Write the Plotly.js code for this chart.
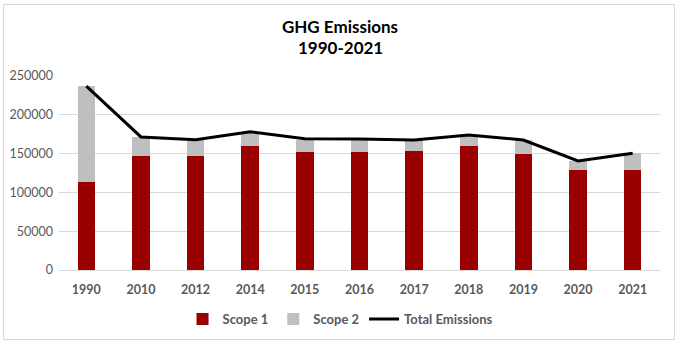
<!DOCTYPE html>
<html>
<head>
<meta charset="utf-8">
<script src="https://cdn.plot.ly/plotly-3.0.1.min.js"></script>
<style>
html,body{margin:0;padding:0;background:#fff;}
#wrap{position:relative;width:678px;height:345px;}
#chart{width:678px;height:345px;}
#frame{position:absolute;left:3px;top:4px;width:670px;height:334px;border:1px solid #d9d9d9;pointer-events:none;}
</style>
</head>
<body>
<div id="wrap"><div id="chart"></div><div id="frame"></div></div>
<script>
const years = ["1990","2010","2012","2014","2015","2016","2017","2018","2019","2020","2021"];
const scope1 = [113000,147500,147500,160000,151500,151500,154000,159500,149000,128500,128500];
const scope2 = [124000,24000,20500,18000,16500,17000,13500,14500,18500,12000,22000];
const totalEmissions = [237000,171500,168000,178000,169000,168800,167500,174000,167500,140500,150500];
const yTicks = [0,50000,100000,150000,200000,250000];

const font = "Lato, 'Open Sans', 'Liberation Sans', sans-serif";
const centerX = (340 - 58.6) / 601.8;
const data = [
  {type:'bar', name:'<b>Scope 1</b>', x:years, y:scope1, marker:{color:'#990000'}},
  {type:'bar', name:'<b>Scope 2</b>', x:years, y:scope2, marker:{color:'#bfbfbf'}},
  {type:'scatter', mode:'lines', name:'<b>Total Emissions</b>', x:years, y:totalEmissions, line:{color:'#000000', width:3}}
];
const layout = {
  width:678, height:345,
  paper_bgcolor:'#fff', plot_bgcolor:'#fff',
  margin:{l:58.6, r:17.6, t:76, b:74},
  barmode:'stack', bargap:0.68,
  showlegend:true,
  title:{text:'<b>GHG Emissions</b>', x:340/678, xanchor:'center', y:1-27/345, yref:'container', yanchor:'middle', font:{family:font, size:17, color:'#000'}},
  annotations:[{text:'<b>1990-2021</b>', xref:'paper', yref:'paper', x:centerX, xanchor:'center', y:(271-47)/195, yanchor:'middle', showarrow:false, font:{family:font, size:17, color:'#000'}}],
  xaxis:{type:'category', tickfont:{family:font, size:12.5, color:'#595959'}, showgrid:false, showline:false, ticks:'', tickprefix:'<b>', ticksuffix:'</b>', ticklabelstandoff:10},
  yaxis:{range:[0,250000], tickvals:yTicks, ticktext:yTicks.map(String), tickfont:{family:font, size:12.5, color:'#595959'}, showgrid:true, gridcolor:'#d9d9d9', gridwidth:1, zeroline:true, zerolinecolor:'#d9d9d9', showline:false, ticks:'', ticklabelstandoff:5},
  legend:{orientation:'h', x:centerX, xanchor:'center', y:-0.17, yanchor:'top', font:{family:font, size:13, color:'#595959'}, traceorder:'normal', itemwidth:30},
  font:{family:font}
};
Plotly.newPlot('chart', data, layout, {displayModeBar:false, staticPlot:true});
</script>
</body>
</html>
